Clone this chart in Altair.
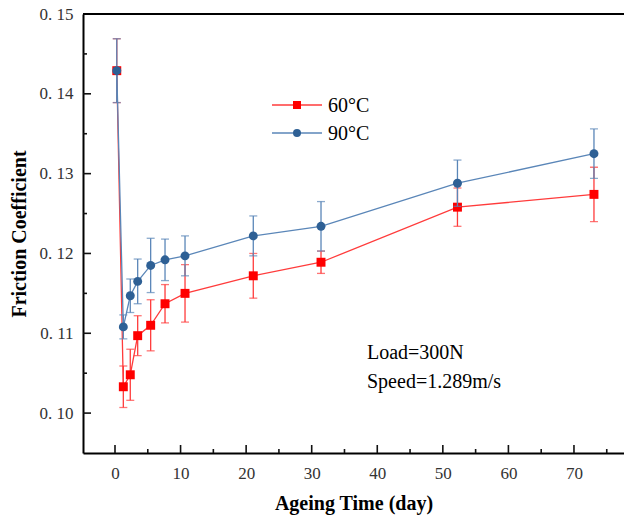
import altair as alt
import pandas as pd

# ---- data ----
series = ["60°C", "90°C"]
days_pos = [0.27, 1.27, 2.33, 3.46, 5.44, 7.63, 10.68, 21.09, 31.42, 52.23, 73.05]
y_60 = [0.1429, 0.1033, 0.1048, 0.1097, 0.1110, 0.1137, 0.1150, 0.1172, 0.1189, 0.1258, 0.1274]
e_60 = [0.0040, 0.0026, 0.0032, 0.0025, 0.0032, 0.0024, 0.0036, 0.0028, 0.0014, 0.0024, 0.0034]
y_90 = [0.1429, 0.1108, 0.1147, 0.1165, 0.1185, 0.1192, 0.1197, 0.1222, 0.1234, 0.1288, 0.1325]
e_90 = [0.0040, 0.0015, 0.0021, 0.0028, 0.0034, 0.0026, 0.0025, 0.0025, 0.0031, 0.0029, 0.0031]
x_major = [0, 10, 20, 30, 40, 50, 60, 70]
x_minor = [5, 15, 25, 35, 45, 55, 65, 75]
y_major = [0.10, 0.11, 0.12, 0.13, 0.14, 0.15]
y_minor = [0.105, 0.115, 0.125, 0.135, 0.145]
notes = ["Load=300N", "Speed=1.289m/s"]

W, H = 541, 439
FONT = "Liberation Serif"
marker_col = ["#ff0000", "#2e6095"]
line_col = ["#ff3b3b", "#5a86b8"]
shapes = ["square", "circle"]

xs = alt.Scale(domain=[-4.88, 77.63], nice=False, zero=False)
ys = alt.Scale(domain=[0.095, 0.15], nice=False, zero=False)

x_axis = alt.Axis(values=x_major, ticks=False, grid=False, domainColor="black", domainWidth=2,
                  labelFont=FONT, labelFontSize=17, labelColor="#333333", labelPadding=12,
                  title="Ageing Time (day)", titleFont=FONT, titleFontSize=20, titleFontWeight="bold",
                  titleColor="black", titleBaseline="alphabetic", titleY=56)
y_axis = alt.Axis(values=y_major, ticks=False, grid=False, domainColor="black", domainWidth=2,
                  labelExpr="replace(format(datum.value, '.2f'), '.', '. ')",
                  labelFont=FONT, labelFontSize=17, labelColor="#333333", labelPadding=10,
                  title="Friction Coefficient", titleFont=FONT, titleFontSize=20, titleFontWeight="bold",
                  titleColor="black", titleX=-64, titleY=H / 2, titleAlign="center", titleBaseline="middle",
                  titleAngle=-90)

frames = []
for s, yv, ev in [(series[0], y_60, e_60), (series[1], y_90, e_90)]:
    frames.append(pd.DataFrame({"series": s, "day": days_pos, "f": yv,
                                "lo": [a - b for a, b in zip(yv, ev)],
                                "hi": [a + b for a, b in zip(yv, ev)]}))

layers = []
# axes holder (invisible) so axes are drawn once
base_df = pd.concat(frames)
layers.append(alt.Chart(base_df).mark_point(opacity=0).encode(
    x=alt.X("day:Q", scale=xs, axis=x_axis), y=alt.Y("f:Q", scale=ys, axis=y_axis)))

for i, df in enumerate(frames):
    b = alt.Chart(df)
    X = alt.X("day:Q", scale=xs)
    layers.append(b.mark_line(color=line_col[i], strokeWidth=1.3).encode(x=X, y=alt.Y("f:Q", scale=ys)))
    layers.append(b.mark_rule(color=line_col[i], strokeWidth=1.3).encode(
        x=X, y=alt.Y("lo:Q", scale=ys), y2="hi:Q"))
    layers.append(b.mark_tick(color=line_col[i], orient="horizontal", size=8, thickness=1.3).encode(
        x=X, y=alt.Y("lo:Q", scale=ys)))
    layers.append(b.mark_tick(color=line_col[i], orient="horizontal", size=8, thickness=1.3).encode(
        x=X, y=alt.Y("hi:Q", scale=ys)))
    layers.append(b.mark_point(shape=shapes[i], filled=True, opacity=1, size=80, color=marker_col[i]).encode(
        x=X, y=alt.Y("f:Q", scale=ys)))

# inward ticks
tick_col = "#111111"
layers.append(alt.Chart(pd.DataFrame({"t": x_major})).mark_rule(color=tick_col, strokeWidth=1.6).encode(
    x=alt.X("t:Q", scale=xs), y=alt.value(H), y2=alt.value(H - 8)))
layers.append(alt.Chart(pd.DataFrame({"t": x_minor})).mark_rule(color=tick_col, strokeWidth=1.6).encode(
    x=alt.X("t:Q", scale=xs), y=alt.value(H), y2=alt.value(H - 4)))
layers.append(alt.Chart(pd.DataFrame({"t": y_major})).mark_rule(color=tick_col, strokeWidth=1.6).encode(
    y=alt.Y("t:Q", scale=ys), x=alt.value(0), x2=alt.value(8)))
layers.append(alt.Chart(pd.DataFrame({"t": y_minor})).mark_rule(color=tick_col, strokeWidth=1.6).encode(
    y=alt.Y("t:Q", scale=ys), x=alt.value(0), x2=alt.value(4)))

# top frame line
layers.append(alt.Chart(pd.DataFrame({"k": [0]})).mark_rule(color="black", strokeWidth=2).encode(
    x=alt.value(0), x2=alt.value(W + 2), y=alt.value(0)))

# legend
leg_y = [91, 119]
for i, s in enumerate(series):
    d = alt.Chart(pd.DataFrame({"series": [s]}))
    layers.append(d.mark_rule(color=line_col[i], strokeWidth=1.3).encode(
        x=alt.value(189), x2=alt.value(239), y=alt.value(leg_y[i])))
    layers.append(d.mark_point(shape=shapes[i], filled=True, opacity=1, size=64, color=marker_col[i]).encode(
        x=alt.value(214), y=alt.value(leg_y[i])))
    layers.append(d.mark_text(font=FONT, fontSize=20, color="black", align="left", baseline="middle").encode(
        x=alt.value(245), y=alt.value(leg_y[i] + 1), text="series:N"))

# annotations
note_y = [345, 374]
for i, t in enumerate(notes):
    layers.append(alt.Chart(pd.DataFrame({"note": [t]})).mark_text(
        font=FONT, fontSize=20, color="black", align="left", baseline="alphabetic").encode(
        x=alt.value(284), y=alt.value(note_y[i]), text="note:N"))

chart = alt.layer(*layers).properties(
    width=W, height=H,
    autosize=alt.AutoSizeParams(type="none"),
    padding={"left": 83, "top": 14, "right": 0, "bottom": 64},
    background="white",
).configure_view(stroke=None)

chart.save("out.html", embed_options={"renderer": "svg", "actions": False})
